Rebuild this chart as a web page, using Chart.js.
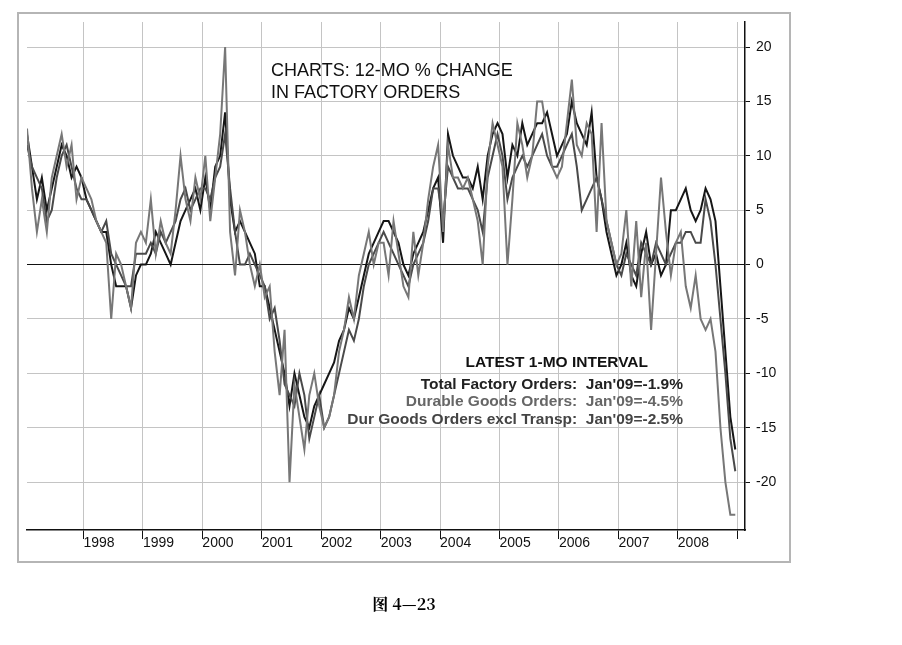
<!DOCTYPE html>
<html>
<head>
<meta charset="utf-8">
<script src="https://cdn.jsdelivr.net/npm/chart.js@4"></script>
<style>
  body { margin: 0; background: #fff; }
  #wrap { position: relative; width: 902px; height: 645px; }
  #frame { position: absolute; left: 17px; top: 12px; width: 770px; height: 547px; border: 2px solid #b5b5b5; }
  canvas { position: absolute; left: 0; top: 0; }
  #caption { position: absolute; left: 0; width: 808px; top: 592px; text-align: center;
    font-family: "Noto Serif CJK SC", "Noto Sans CJK SC", serif; font-weight: bold; font-size: 16px; }
</style>
</head>
<body>
<div id="wrap">
  <div id="frame"></div>
  <canvas id="c" width="902" height="645"></canvas>
  <div id="caption">图 4—23</div>
</div>
<script>
const years = [1997, 1998, 1999, 2000, 2001, 2002, 2003, 2004, 2005, 2006, 2007, 2008];
const yearTicks = [1998, 1999, 2000, 2001, 2002, 2003, 2004, 2005, 2006, 2007, 2008, 2009];

// 12-month % change, monthly Jan 1997 .. Dec 2008
const totalOrders = [
  12, 9, 6, 8, 5, 7, 9, 11, 10, 8, 9, 8,
  6, 5, 4, 3, 3, 0, -2, -2, -2, -4, -1, 0,
  0, 1, 3, 2, 1, 0, 2, 4, 5, 6, 7, 5,
  8, 5, 9, 10, 14, 6, 3, 4, 3, 2, 1, -2,
  -2, -4, -6, -8, -10, -13, -10, -12, -14, -15, -13, -12,
  -11, -10, -9, -7, -6, -4, -5, -3, -1, 1, 2, 3,
  4, 4, 3, 2, 0, -1, 1, 2, 3, 5, 7, 8,
  2, 12, 10, 9, 8, 8, 7, 9, 6, 10, 12, 13,
  12, 8, 11, 10, 13, 11, 12, 13, 13, 14, 12, 10,
  11, 12, 15, 13, 12, 11, 14, 8, 6, 3, 1, -1,
  0, 2, -1, -2, 1, 3, 0, 1, -1, 0, 5, 5,
  6, 7, 5, 4, 5, 7, 6, 4, -2, -8, -14, -17
];
const durableGoods = [
  12.5, 7, 3, 6, 3, 8, 10, 12, 9, 11, 6, 8,
  7, 6, 4, 3, 2, -5, 1, 0, -2, -4, 2, 3,
  2, 6, 1, 4, 2, 1, 5, 10, 6, 4, 8, 6,
  10, 4, 8, 12, 20, 3, -1, 5, 3, 0, -2, 0,
  -3, -2, -8, -12, -6, -20, -11, -14, -17, -12, -10, -13,
  -15, -14, -12, -8, -6, -3, -5, -1, 1, 3, 0, 2,
  2, -1, 4, 1, -2, -3, 3, -1, 2, 6, 9, 11,
  3, 11, 8, 8, 7, 8, 6, 4, 0, 9, 13, 11,
  9, 0, 6, 13, 11, 8, 10, 15, 15, 12, 9, 8,
  9, 13, 17, 11, 10, 13, 12, 3, 13, 4, 2, 0,
  1, 5, -2, 4, -3, 2, -6, 1, 8, 3, -1, 2,
  3, -2, -4, -1, -5, -6, -5, -8, -15, -20, -23, -23
];
const durExTransp = [
  11, 9, 8, 7, 4, 5, 8, 10, 11, 9, 7, 6,
  6, 5, 4, 3, 4, 1, 0, -1, -2, -2, 1, 1,
  1, 2, 1, 3, 2, 3, 4, 6, 7, 5, 6, 7,
  7, 6, 8, 9, 12, 7, 3, 0, 0, 1, 0, -1,
  -2, -5, -4, -7, -11, -12, -13, -10, -12, -16, -14, -12,
  -15, -14, -12, -10, -8, -6, -7, -5, -2, 0, 1, 2,
  3, 2, 1, 0, -1, -2, 0, 1, 2, 4, 7, 7,
  4, 9, 8, 7, 7, 7, 6, 5, 3, 8, 10, 12,
  10, 6, 8, 9, 10, 9, 10, 11, 12, 10, 9, 9,
  10, 11, 12, 9, 5, 6, 7, 8, 6, 4, 2, 0,
  -1, 1, 0, -1, 2, 1, 0, 2, 1, 0, 1, 2,
  2, 3, 3, 2, 2, 6, 4, 0, -5, -10, -16, -19
];

function toPoints(vals) {
  return vals.map((v, i) => ({ x: years[Math.floor(i / 12)] + (i % 12 + 0.6) / 12, y: v }));
}

const notes = {
  id: 'notes',
  afterDraw(chart) {
    const g = chart.ctx;
    g.save();
    g.fillStyle = '#111';
    g.textAlign = 'left';
    g.font = '18px "Liberation Sans", Arial, sans-serif';
    g.fillText('CHARTS: 12-MO % CHANGE', 271, 76);
    g.fillText('IN FACTORY ORDERS', 271, 98);
    g.textAlign = 'right';
    g.font = 'bold 15.5px "Liberation Sans", Arial, sans-serif';
    g.fillText('LATEST 1-MO INTERVAL', 648, 367);
    g.fillStyle = '#222';
    g.fillText('Total Factory Orders:  Jan\'09=-1.9%', 683, 389);
    g.fillStyle = '#666';
    g.fillText('Durable Goods Orders:  Jan\'09=-4.5%', 683, 406);
    g.fillStyle = '#444';
    g.fillText('Dur Goods Orders excl Transp:  Jan\'09=-2.5%', 683, 424);
    g.restore();
  }
};

new Chart(document.getElementById('c'), {
  type: 'line',
  data: {
    datasets: [
      { label: 'Durable Goods Orders', data: toPoints(durableGoods), borderColor: '#777', borderWidth: 2 },
      { label: 'Dur Goods Orders excl Transp', data: toPoints(durExTransp), borderColor: '#4a4a4a', borderWidth: 2 },
      { label: 'Total Factory Orders', data: toPoints(totalOrders), borderColor: '#161616', borderWidth: 2 }
    ]
  },
  options: {
    responsive: false,
    animation: false,
    elements: { point: { radius: 0 }, line: { tension: 0 } },
    layout: { padding: { left: 27, top: 22, right: 117, bottom: 85 } },
    plugins: { legend: { display: false }, tooltip: { enabled: false } },
    scales: {
      x: {
        type: 'linear', min: 1997.05, max: 2009.13,
        afterBuildTicks: s => { s.ticks = yearTicks.map(v => ({ value: v })); },
        afterFit: s => { s.height = 30; },
        border: { color: '#111', width: 1.5 },
        grid: { color: '#c4c4c4', lineWidth: 1, tickLength: 9, tickColor: '#111' },
        ticks: {
          align: 'start', padding: -4, color: '#111',
          font: { family: '"Liberation Sans", Arial, sans-serif', size: 14 },
          callback: v => (v === 2009 ? '' : String(v))
        }
      },
      y: {
        position: 'right', min: -24.4, max: 22.3,
        afterBuildTicks: s => {
          const t = [];
          for (let v = -20; v <= 20; v += 5) t.push({ value: v });
          s.ticks = t;
        },
        afterFit: s => { s.width = 40; },
        border: { color: '#111', width: 1.5 },
        grid: {
          color: ctx => (ctx.tick && ctx.tick.value === 0 ? '#111' : '#c4c4c4'),
          lineWidth: 1, tickLength: 5, tickColor: '#111'
        },
        ticks: { color: '#111', padding: 6, font: { family: '"Liberation Sans", Arial, sans-serif', size: 14 } }
      }
    }
  },
  plugins: [notes]
});
</script>
</body>
</html>
